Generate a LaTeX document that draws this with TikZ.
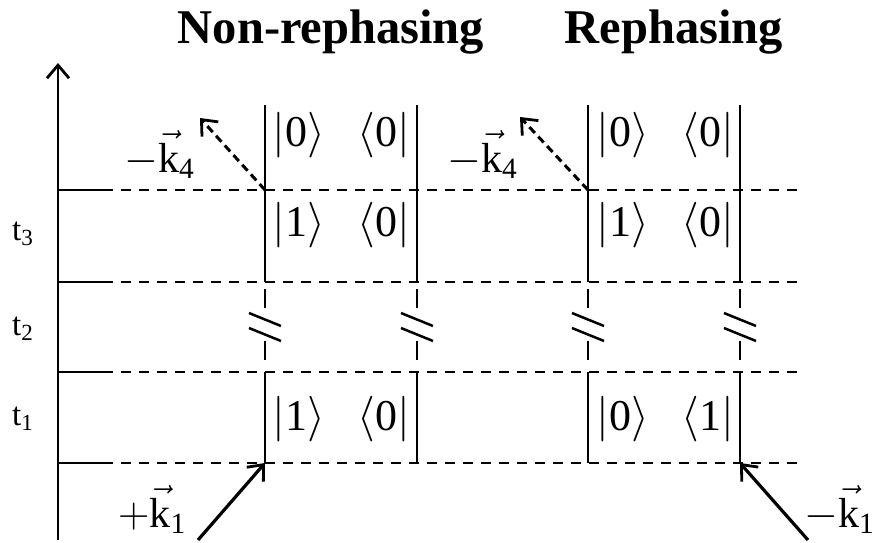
\documentclass[tikz,border=0pt]{standalone}
\usepackage{graphicx}
\usepackage{amsmath}
\usepackage{fontspec}
\setmainfont{Liberation Serif}
\usetikzlibrary{arrows.meta}
\tikzset{
  ln/.style={line width=2.5pt},
  dsh/.style={line width=2.5pt, dash pattern=on 10pt off 8pt},
  kdash/.style={line width=3pt, dash pattern=on 8pt off 5pt},
  kin/.style={line width=3.2pt},
  barb/.style={-{Straight Barb[length=13pt,width=22pt,line width=2.8pt]}},
  ket/.style={inner sep=0pt},
  ttl/.style={font=\fontsize{48.5}{56}\selectfont\bfseries, inner sep=0pt, anchor=base},
  tlab/.style={inner sep=0pt, anchor=base west},
  klab/.style={inner sep=0pt, anchor=base west},
}
\newcommand{\scmath}[2]{\mbox{\fontsize{20}{24}\selectfont\scalebox{#1}{$#2$}}}
\newcommand{\kt}[2]{\scmath{2.2}{|\text{#1}\rangle\hspace{0.75em}\langle \text{#2}|}}
\newcommand{\kv}[2]{\scmath{2.1}{#1\vec{\text{k}}_{\text{#2}}}}
\begin{document}
\begin{tikzpicture}[x=1pt,y=-1pt]
\useasboundingbox (0,0) rectangle (880,542);
% titles
\node[ttl] (tnr) at (331,43) {Non-rephasing};
\node[ttl] (tr) at (674,43) {Rephasing};
% time axis
\coordinate (ax0) at (58,540);
\coordinate (ax1) at (58,63);
\draw[ln,barb] (ax0) -- (ax1);
% horizontal levels
\foreach \y/\n in {190/h3,282/h2,372/h1,463/h0}{
  \coordinate (\n a) at (58,\y);
  \coordinate (\n b) at (113,\y);
  \coordinate (\n c) at (121,\y);
  \coordinate (\n d) at (800,\y);
  \draw[ln] (\n a) -- (\n b);
  \draw[dsh] (\n c) -- (\n d);
}
% time labels
\node[tlab] (t3) at (12,240) {\scmath{1.65}{\text{t}_{\text{3}}}};
\node[tlab] (t2) at (12,335) {\scmath{1.65}{\text{t}_{\text{2}}}};
\node[tlab] (t1) at (12,425) {\scmath{1.65}{\text{t}_{\text{1}}}};
% vertical lines with breaks
\foreach \x/\n in {265/va,417/vb,588/vc,740/vd}{
  \coordinate (\n 1) at (\x,105);
  \coordinate (\n 2) at (\x,282);
  \coordinate (\n 3) at (\x,289);
  \coordinate (\n 4) at (\x,308);
  \coordinate (\n 5) at (\x,341);
  \coordinate (\n 6) at (\x,360);
  \coordinate (\n 7) at (\x,372);
  \coordinate (\n 8) at (\x,463);
  \coordinate (\n s1a) at ({\x-16},313);
  \coordinate (\n s1b) at ({\x+16},326);
  \coordinate (\n s2a) at ({\x-16},328);
  \coordinate (\n s2b) at ({\x+16},341);
  \draw[ln] (\n 1) -- (\n 2);
  \draw[ln] (\n 3) -- (\n 4);
  \draw[ln] (\n 5) -- (\n 6);
  \draw[ln] (\n 7) -- (\n 8);
  \draw[ln] (\n s1a) -- (\n s1b);
  \draw[ln] (\n s2a) -- (\n s2b);
}
% kets
\node[ket] (k1) at (341.5,135) {\kt{0}{0}};
\node[ket] (k2) at (341.5,225) {\kt{1}{0}};
\node[ket] (k3) at (341.5,419) {\kt{1}{0}};
\node[ket] (k4) at (665.5,135) {\kt{0}{0}};
\node[ket] (k5) at (665.5,225) {\kt{1}{0}};
\node[ket] (k6) at (665.5,419) {\kt{0}{1}};
% field arrows
\coordinate (e4a) at (200,118);
\coordinate (e4b) at (520,117);
\coordinate (e1a) at (198,540);
\coordinate (e1b) at (808,540);
\draw[kdash,barb] (va2 |- h3a) -- (e4a);
\draw[kdash,barb] (vc2 |- h3a) -- (e4b);
\draw[kin,barb] (e1a) -- (va8);
\draw[kin,barb] (e1b) -- (vd8);
% field labels
\node[klab] (l4a) at (124,172) {\kv{-}{4}};
\node[klab] (l4b) at (447,172) {\kv{-}{4}};
\node[klab] (l1a) at (118,527) {\kv{+}{1}};
\node[klab] (l1b) at (804,527) {\kv{-}{1}};
\end{tikzpicture}
\end{document}
